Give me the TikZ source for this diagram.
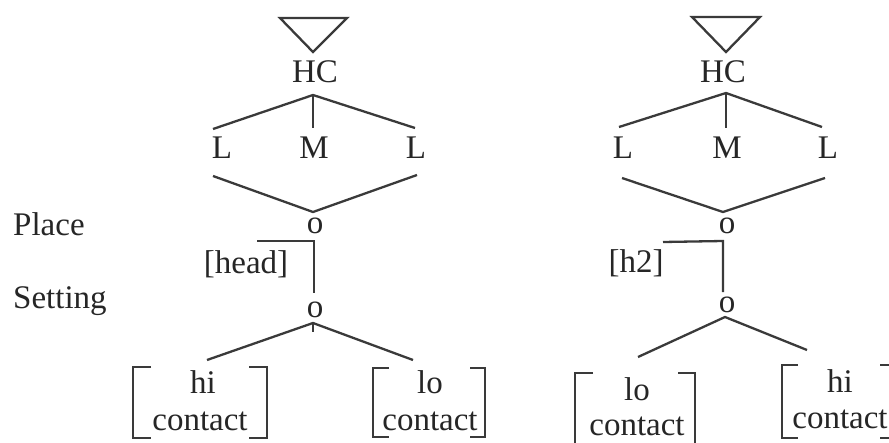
\documentclass[tikz,border=0pt]{standalone}
\usepackage{fontspec}
\setmainfont{Liberation Serif}
\definecolor{linec}{HTML}{3A3A3A}
\definecolor{txtc}{HTML}{262626}
\begin{document}
\begin{tikzpicture}[x=1pt,y=-1pt,
  lbl/.style={inner sep=0pt, anchor=base, font=\fontsize{33}{36}\selectfont, text=txtc},
  ln/.style={draw=linec, line width=2.3pt, line join=miter},
  brk/.style={draw=linec, line width=2.6pt}]
\useasboundingbox (0,0) rectangle (889,442);
\clip (0,0) rectangle (889,442);
% ---------- left labels
\node[lbl, anchor=base west] (place) at (13,235) {Place};
\node[lbl, anchor=base west] (setting) at (13,308) {Setting};
% ---------- left tree
\coordinate (Ta1) at (280,18); \coordinate (Ta2) at (347,18); \coordinate (Ta3) at (313,52);
\draw[ln] (Ta1) -- (Ta2) -- (Ta3) -- cycle;
\node[lbl] (hcA) at (315,82) {HC};
\node[lbl] (lA1) at (222,158) {L};
\node[lbl] (mA) at (314,158) {M};
\node[lbl] (lA2) at (416,158) {L};
\coordinate (bA) at (313,95);
\coordinate (uA1) at (213,129); \coordinate (uA2) at (313,128); \coordinate (uA3) at (415,128);
\draw[ln] (uA1) -- (bA) -- (uA3); \draw[ln] (bA) -- (uA2);
\coordinate (dA1) at (213,176); \coordinate (dA0) at (313,212); \coordinate (dA2) at (417,175);
\draw[ln] (dA1) -- (dA0) -- (dA2);
\node[lbl] (oA1) at (315,233) {o};
\node[lbl] (headA) at (246,273) {[head]};
\coordinate (hA1) at (257,241); \coordinate (hA2) at (314,241); \coordinate (hA3) at (314,293);
\draw[ln] (hA1) -- (hA2) -- (hA3);
\node[lbl] (oA2) at (315,317) {o};
\coordinate (sA) at (313,323); \coordinate (sAt) at (313,332);
\coordinate (sA1) at (207,360); \coordinate (sA2) at (413,360);
\draw[ln] (sA1) -- (sA) -- (sA2); \draw[ln] (sA) -- (sAt);
\node[lbl] (hiA) at (203,393) {hi};
\node[lbl] (chiA) at (200,430) {contact};
\draw[brk] (151,367) -- (133,367) -- (133,438) -- (151,438);
\draw[brk] (249,367) -- (267,367) -- (267,438) -- (249,438);
\node[lbl] (loA) at (430,393) {lo};
\node[lbl] (cloA) at (430,430) {contact};
\draw[brk] (389,368) -- (373,368) -- (373,437) -- (389,437);
\draw[brk] (470,368) -- (485,368) -- (485,437) -- (470,437);
% ---------- right tree
\coordinate (Tb1) at (692,17); \coordinate (Tb2) at (760,17); \coordinate (Tb3) at (726,52);
\draw[ln] (Tb1) -- (Tb2) -- (Tb3) -- cycle;
\node[lbl] (hcB) at (723,82) {HC};
\node[lbl] (lB1) at (623,158) {L};
\node[lbl] (mB) at (727,158) {M};
\node[lbl] (lB2) at (828,158) {L};
\coordinate (bB) at (726,93);
\coordinate (uB1) at (619,127); \coordinate (uB2) at (726,128); \coordinate (uB3) at (822,127);
\draw[ln] (uB1) -- (bB) -- (uB3); \draw[ln] (bB) -- (uB2);
\coordinate (dB1) at (622,178); \coordinate (dB0) at (723,212); \coordinate (dB2) at (825,178);
\draw[ln] (dB1) -- (dB0) -- (dB2);
\node[lbl] (oB1) at (727,233) {o};
\node[lbl] (headB) at (636,272) {[h2]};
\coordinate (hB1) at (663,242); \coordinate (hB2) at (723,241); \coordinate (hB3) at (723,292);
\draw[ln] (hB1) -- (hB2) -- (hB3);
\node[lbl] (oB2) at (727,312) {o};
\coordinate (sB) at (725,317);
\coordinate (sB1) at (638,357); \coordinate (sB2) at (807,350);
\draw[ln] (sB1) -- (sB) -- (sB2);
\node[lbl] (loB) at (637,400) {lo};
\node[lbl] (cloB) at (637,435) {contact};
\draw[brk] (593,373) -- (575,373) -- (575,450);
\draw[brk] (678,373) -- (695,373) -- (695,450);
\node[lbl] (hiB) at (840,392) {hi};
\node[lbl] (chiB) at (840,428) {contact};
\draw[brk] (798,365) -- (782,365) -- (782,438) -- (798,438);
\draw[brk] (880,365) -- (897,365) -- (897,438) -- (880,438);
\end{tikzpicture}
\end{document}
